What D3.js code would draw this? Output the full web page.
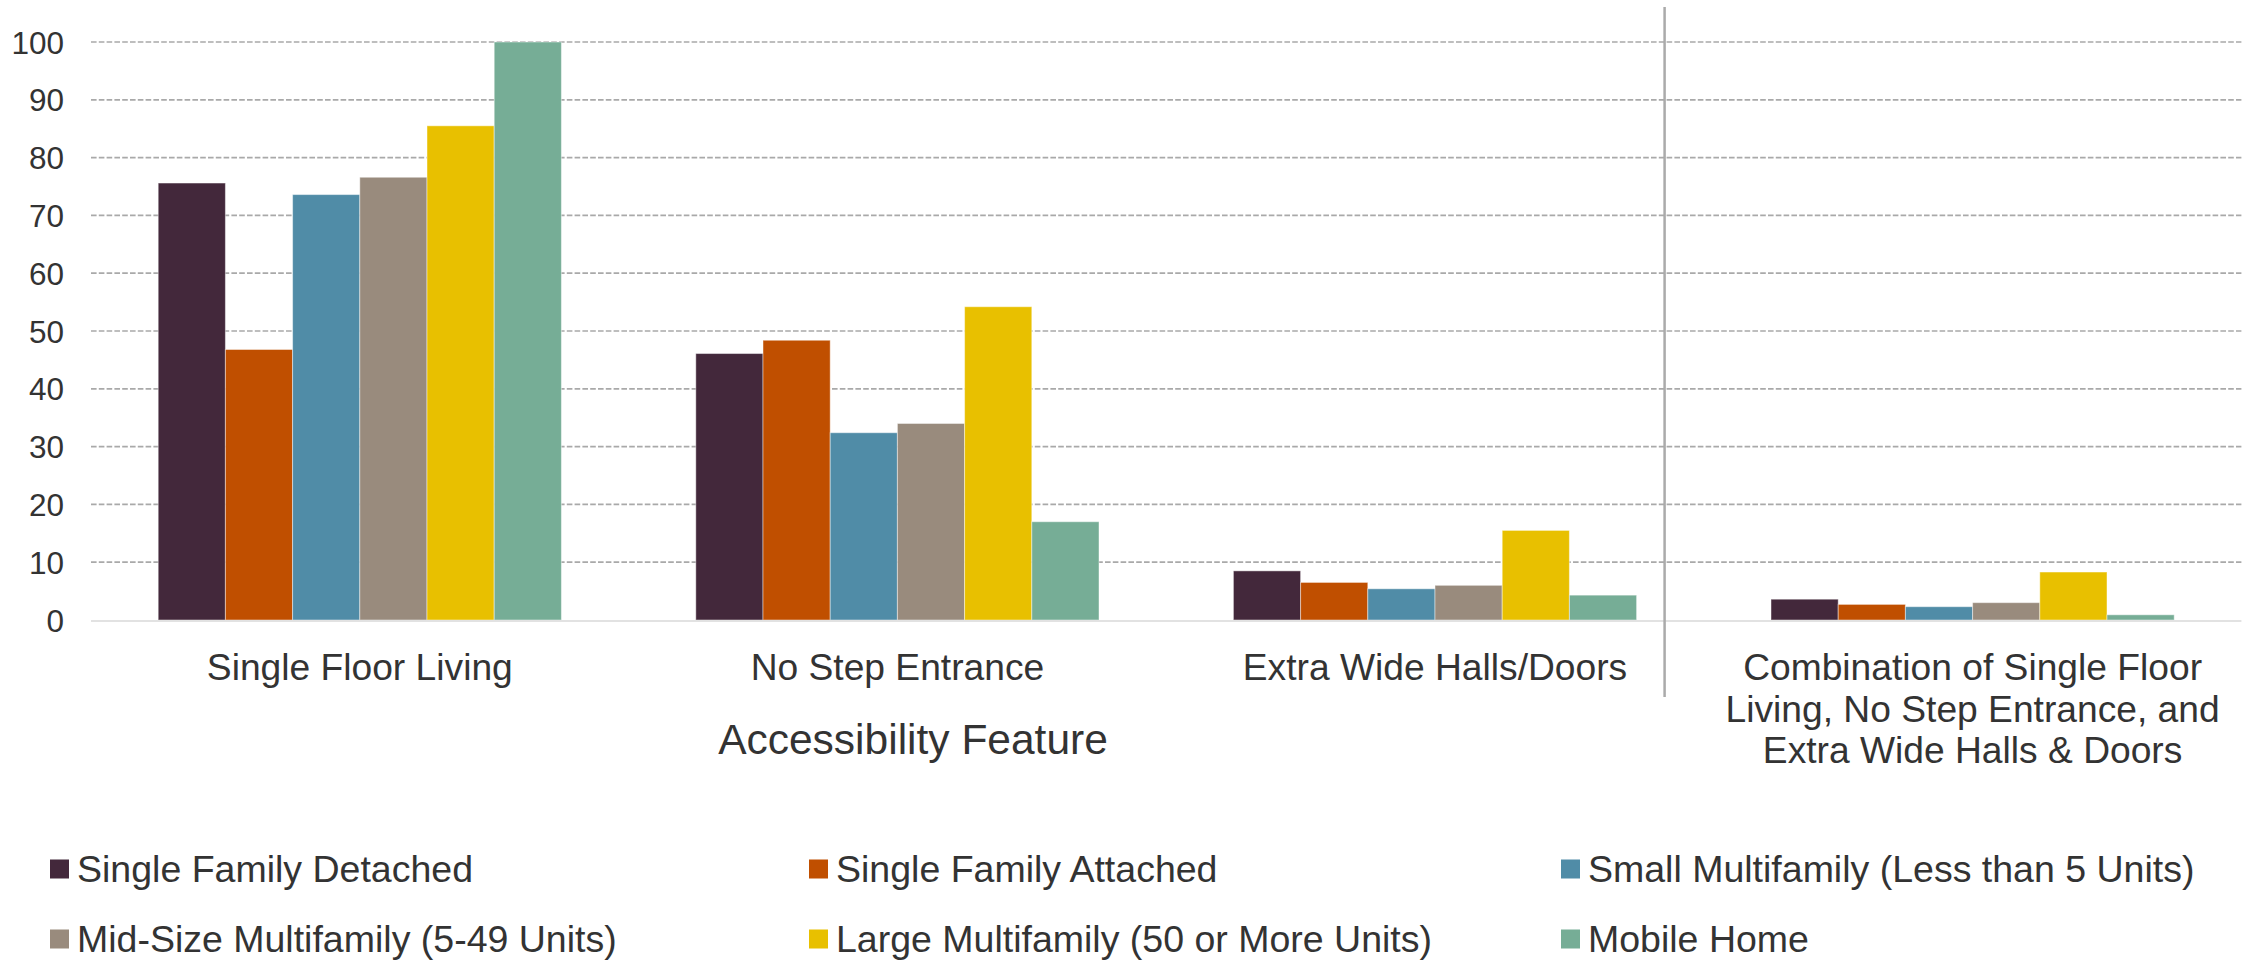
<!DOCTYPE html>
<html lang="en">
<head>
	<meta charset="UTF-8"/>
	<title>Accessibility Feature by Housing Type</title>
	<script src="https://d3js.org/d3.v7.min.js"></script>
	<style>
		body { margin:0; background:#fff; }
		text { font-family: "Liberation Sans", Arial, sans-serif; fill:#333; }
	</style>
</head>
<body>
<script>
	var w = 2246;
	var h = 960;

	// ---------- data ----------
	var categories = ["Single Floor Living", "No Step Entrance", "Extra Wide Halls/Doors",
		"Combination of Single Floor|Living, No Step Entrance, and|Extra Wide Halls & Doors"];
	var seriesNames = ["Single Family Detached", "Single Family Attached", "Small Multifamily (Less than 5 Units)",
		"Mid-Size Multifamily (5-49 Units)", "Large Multifamily (50 or More Units)", "Mobile Home"];
	var singleFamilyDetached = [75.6, 46.1, 8.5, 3.6];
	var singleFamilyAttached = [46.8, 48.4, 6.5, 2.7];
	var smallMultifamily = [73.6, 32.4, 5.4, 2.3];
	var midSizeMultifamily = [76.6, 34.0, 6.0, 3.0];
	var largeMultifamily = [85.5, 54.2, 15.5, 8.3];
	var mobileHome = [100, 17.0, 4.3, 0.9];
	var yTicks = [0, 10, 20, 30, 40, 50, 60, 70, 80, 90, 100];
	var colors = ["#43283b", "#c04f00", "#508ca7", "#998b7d", "#e8c000", "#76ad96"];

	var series = [singleFamilyDetached, singleFamilyAttached, smallMultifamily,
		midSizeMultifamily, largeMultifamily, mobileHome];

	var svg = d3.select("body")
		.append("svg")
		.attr("width", w)
		.attr("height", h);

	// ---------- scales ----------
	var xScale = d3.scaleBand()
		.domain(d3.range(categories.length))
		.range([91, 2241.4])
		.paddingInner(0.25)
		.paddingOuter(0.125);

	var xInner = d3.scaleBand()
		.domain(d3.range(seriesNames.length))
		.range([0, xScale.bandwidth()]);

	var yScale = d3.scaleLinear()
		.domain([0, 100])
		.range([620, 42]);

	var plotLeft = xScale.range()[0];
	var plotRight = xScale.range()[1];

	// ---------- gridlines ----------
	svg.selectAll("line.grid")
		.data(yTicks.filter(function(d){ return d > 0; }))
		.enter()
		.append("line")
		.attr("class", "grid")
		.attr("x1", plotLeft)
		.attr("x2", plotRight)
		.attr("y1", function(d){ return yScale(d); })
		.attr("y2", function(d){ return yScale(d); })
		.attr("stroke", "#a9a9a9")
		.attr("stroke-width", 1.7)
		.attr("stroke-dasharray", "5.6,2.2");

	// y labels
	svg.selectAll("text.ytick")
		.data(yTicks)
		.enter()
		.append("text")
		.attr("class", "ytick")
		.attr("x", 64)
		.attr("y", function(d){ return yScale(d) + 11.5; })
		.attr("text-anchor", "end")
		.style("font-size", "31.5px")
		.text(function(d){ return d; });

	// ---------- bars ----------
	var groups = svg.selectAll("g.series")
		.data(series)
		.enter()
		.append("g")
		.attr("class", "series")
		.attr("fill", function(d, i){ return colors[i]; });

	groups.each(function(vals, s) {
		d3.select(this).selectAll("rect")
			.data(vals)
			.enter()
			.append("rect")
			.attr("x", function(d, i){ return xScale(i) + xInner(s); })
			.attr("y", function(d){ return yScale(d); })
			.attr("width", xInner.bandwidth())
			.attr("height", function(d){ return yScale(0) - yScale(d); })
			.attr("stroke", "#ffffff")
			.attr("stroke-opacity", 0.45)
			.attr("stroke-width", 1);
	});

	// baseline
	svg.append("line")
		.attr("x1", plotLeft)
		.attr("x2", plotRight)
		.attr("y1", yScale(0) + 1)
		.attr("y2", yScale(0) + 1)
		.attr("stroke", "#e2e2e2")
		.attr("stroke-width", 2);

	// separator before the combination group
	var sepX = xScale(2) + xScale.bandwidth() + 28;
	svg.append("line")
		.attr("x1", sepX)
		.attr("x2", sepX)
		.attr("y1", 7)
		.attr("y2", 697)
		.attr("stroke", "#aaaaaa")
		.attr("stroke-width", 2.5);

	// ---------- category labels ----------
	svg.selectAll("text.cat")
		.data(categories)
		.enter()
		.append("text")
		.attr("class", "cat")
		.attr("text-anchor", "middle")
		.style("font-size", "37.2px")
		.each(function(d, i) {
			var lines = d.split("|");
			var t = d3.select(this);
			lines.forEach(function(line, k) {
				t.append("tspan")
					.attr("x", xScale(i) + xScale.bandwidth() / 2)
					.attr("y", 680 + k * 41.5)
					.text(line);
			});
		});

	// axis title
	svg.append("text")
		.attr("x", 913)
		.attr("y", 754)
		.attr("text-anchor", "middle")
		.style("font-size", "42.5px")
		.text("Accessibility Feature");

	// ---------- legend ----------
	var legendX = [50, 809, 1561];
	var legendY = [869, 939];

	var legend = svg.selectAll("g.legend")
		.data(seriesNames)
		.enter()
		.append("g")
		.attr("class", "legend")
		.attr("transform", function(d, i){
			return "translate(" + legendX[i % 3] + "," + legendY[Math.floor(i / 3)] + ")";
		});

	legend.append("rect")
		.attr("x", 0)
		.attr("y", -9.5)
		.attr("width", 19)
		.attr("height", 19)
		.attr("fill", function(d, i){ return colors[i]; });

	legend.append("text")
		.attr("x", 27)
		.attr("y", 13)
		.style("font-size", "37.5px")
		.text(function(d){ return d; });
</script>
</body>
</html>
